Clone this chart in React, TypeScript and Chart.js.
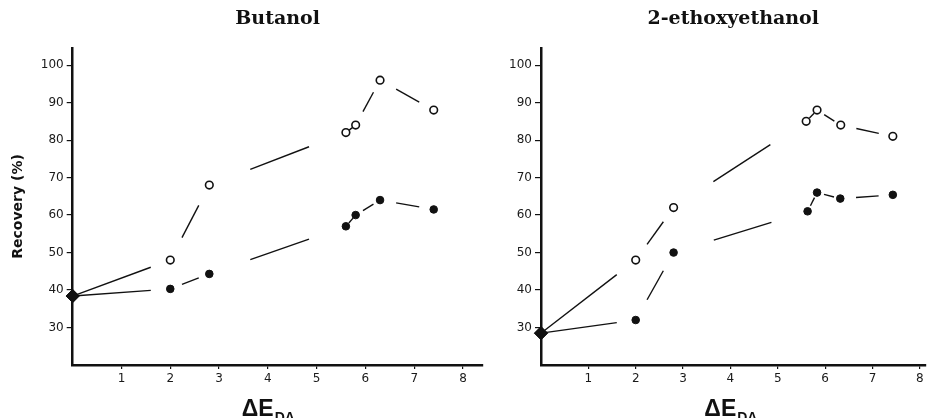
import React, { useEffect, useRef } from 'react';
import { Chart, registerables } from 'chart.js';

Chart.register(...registerables);

// ---- data ----
const xTickValues = [1, 2, 3, 4, 5, 6, 7, 8];
const yTickValues = [30, 40, 50, 60, 70, 80, 90, 100];

const butanolTitle = 'Butanol';
const butanolOpenX = [0, 2, 2.8, 5.6, 5.8, 6.3, 7.4];
const butanolOpenY = [38.4, 48, 68, 82, 84, 96, 88];
const butanolFilledX = [0, 2, 2.8, 5.6, 5.8, 6.3, 7.4];
const butanolFilledY = [38.4, 40.3, 44.3, 57, 60, 64, 61.5];

const ethoxyTitle = '2-ethoxyethanol';
const ethoxyOpenX = [0, 2, 2.8, 5.6, 5.83, 6.33, 7.43];
const ethoxyOpenY = [28.5, 48, 62, 85, 88, 84, 81];
const ethoxyFilledX = [0, 2, 2.8, 5.63, 5.83, 6.32, 7.43];
const ethoxyFilledY = [28.5, 32, 50, 61, 66, 64.4, 65.4];

const yAxisTitle = 'Recovery (%)';
const xAxisTitleMain = 'ΔE';
const xAxisTitleSub = 'DA';

const INK = '#111111';

function segmentDash(ctx: any) {
  const p0 = ctx.p0, p1 = ctx.p1;
  const L = Math.hypot(p1.x - p0.x, p1.y - p0.y);
  const first = ctx.p0DataIndex === 0;
  const g0 = L * (first ? 0.04 : 0.3);
  const g1 = L * (first ? 0.2 : 0.27);
  const d = Math.max(L - g0 - g1, 0.01);
  return [0, g0, d, L + 3000];
}

const xTitlePlugin = {
  id: 'xTitleSub',
  afterDraw(chart: any) {
    const { ctx } = chart;
    const xs = chart.scales.x;
    const cx = xs.getPixelForValue(4);
    const base = xs.bottom - 2;
    ctx.save();
    ctx.fillStyle = INK;
    ctx.textBaseline = 'alphabetic';
    ctx.textAlign = 'left';
    const mainFont = 'bold 23px "Liberation Sans"';
    const subFont = 'bold 14px "Liberation Sans"';
    ctx.font = mainFont;
    const w1 = ctx.measureText(xAxisTitleMain).width;
    ctx.font = subFont;
    const w2 = ctx.measureText(xAxisTitleSub).width;
    const left = cx - (w1 + w2) / 2;
    ctx.font = mainFont;
    ctx.fillText(xAxisTitleMain, left, base);
    ctx.font = subFont;
    ctx.fillText(xAxisTitleSub, left + w1 + 1, base + 6);
    ctx.restore();
  },
};

function series(xs: number[], ys: number[], open: boolean) {
  return {
    data: xs.map((x, i) => ({ x, y: ys[i] })),
    borderColor: INK,
    borderWidth: 1.4,
    tension: 0,
    clip: false as any,
    pointStyle: (c: any) => (c.dataIndex === 0 ? 'rectRot' : 'circle'),
    pointRadius: (c: any) => (c.dataIndex === 0 ? 6.5 : 3.8),
    pointBackgroundColor: (c: any) => (c.dataIndex === 0 ? INK : open ? '#ffffff' : INK),
    pointBorderColor: INK,
    pointBorderWidth: (c: any) => (c.dataIndex === 0 ? 1 : open ? 1.6 : 1),
    segment: { borderDash: segmentDash },
  };
}

function makeConfig(
  title: string,
  openX: number[], openY: number[],
  filledX: number[], filledY: number[],
  showYTitle: boolean, xMax: number, yWidth: number, padRight: number
): any {
  return {
    type: 'line',
    data: {
      datasets: [series(openX, openY, true), series(filledX, filledY, false)],
    },
    plugins: [xTitlePlugin],
    options: {
      responsive: false,
      animation: false,
      layout: { padding: { left: 0, right: padRight, top: 0, bottom: 0 } },
      plugins: {
        legend: { display: false },
        tooltip: { enabled: false },
        title: {
          display: true,
          text: title,
          fullSize: false,
          color: INK,
          font: { family: 'DejaVu Serif', size: 19, weight: 'bold', lineHeight: 1.1 },
          padding: { top: 9, bottom: 18 },
        },
      },
      scales: {
        x: {
          type: 'linear',
          min: 0,
          max: xMax,
          afterBuildTicks: (s: any) => { s.ticks = xTickValues.map((v) => ({ value: v })); },
          afterFit: (s: any) => { s.height = 53; },
          grid: { display: true, drawOnChartArea: false, drawTicks: true, tickLength: 4, color: INK, lineWidth: 1.2 },
          border: { display: true, color: INK, width: 2.5 },
          ticks: { color: '#1a1a1a', font: { family: 'DejaVu Sans', size: 12 }, padding: 3, maxRotation: 0 },
        },
        y: {
          type: 'linear',
          min: 20,
          max: 104.6,
          afterBuildTicks: (s: any) => { s.ticks = yTickValues.map((v) => ({ value: v })); },
          afterFit: (s: any) => { s.width = yWidth; },
          grid: { display: true, drawOnChartArea: false, drawTicks: true, tickLength: 6, color: INK, lineWidth: 1.2 },
          border: { display: true, color: INK, width: 2.5 },
          ticks: { color: '#1a1a1a', font: { family: 'DejaVu Sans', size: 12 }, padding: 3 },
          title: {
            display: showYTitle,
            text: yAxisTitle,
            color: INK,
            font: { family: 'DejaVu Sans', size: 14, weight: 'bold' },
            padding: { top: 10, bottom: 0 },
          },
        },
      },
    },
  };
}

export default function App() {
  const leftRef = useRef<HTMLCanvasElement>(null);
  const rightRef = useRef<HTMLCanvasElement>(null);

  useEffect(() => {
    document.body.style.margin = '0';
    const c1 = new Chart(leftRef.current as HTMLCanvasElement,
      makeConfig(butanolTitle, butanolOpenX, butanolOpenY, butanolFilledX, butanolFilledY, true, 8.4, 72.7, 6));
    const c2 = new Chart(rightRef.current as HTMLCanvasElement,
      makeConfig(ethoxyTitle, ethoxyOpenX, ethoxyOpenY, ethoxyFilledX, ethoxyFilledY, false, 8.12, 71, 0));
    return () => { c1.destroy(); c2.destroy(); };
  }, []);

  return (
    <div style={{ position: 'absolute', left: 0, top: 0, width: 933, height: 418, background: '#fff', overflow: 'hidden' }}>
      <canvas ref={leftRef} width={490} height={418}
        style={{ position: 'absolute', left: 0, top: 0, width: 490, height: 418 }} />
      <canvas ref={rightRef} width={463} height={418}
        style={{ position: 'absolute', left: 470, top: 0, width: 463, height: 418 }} />
    </div>
  );
}
